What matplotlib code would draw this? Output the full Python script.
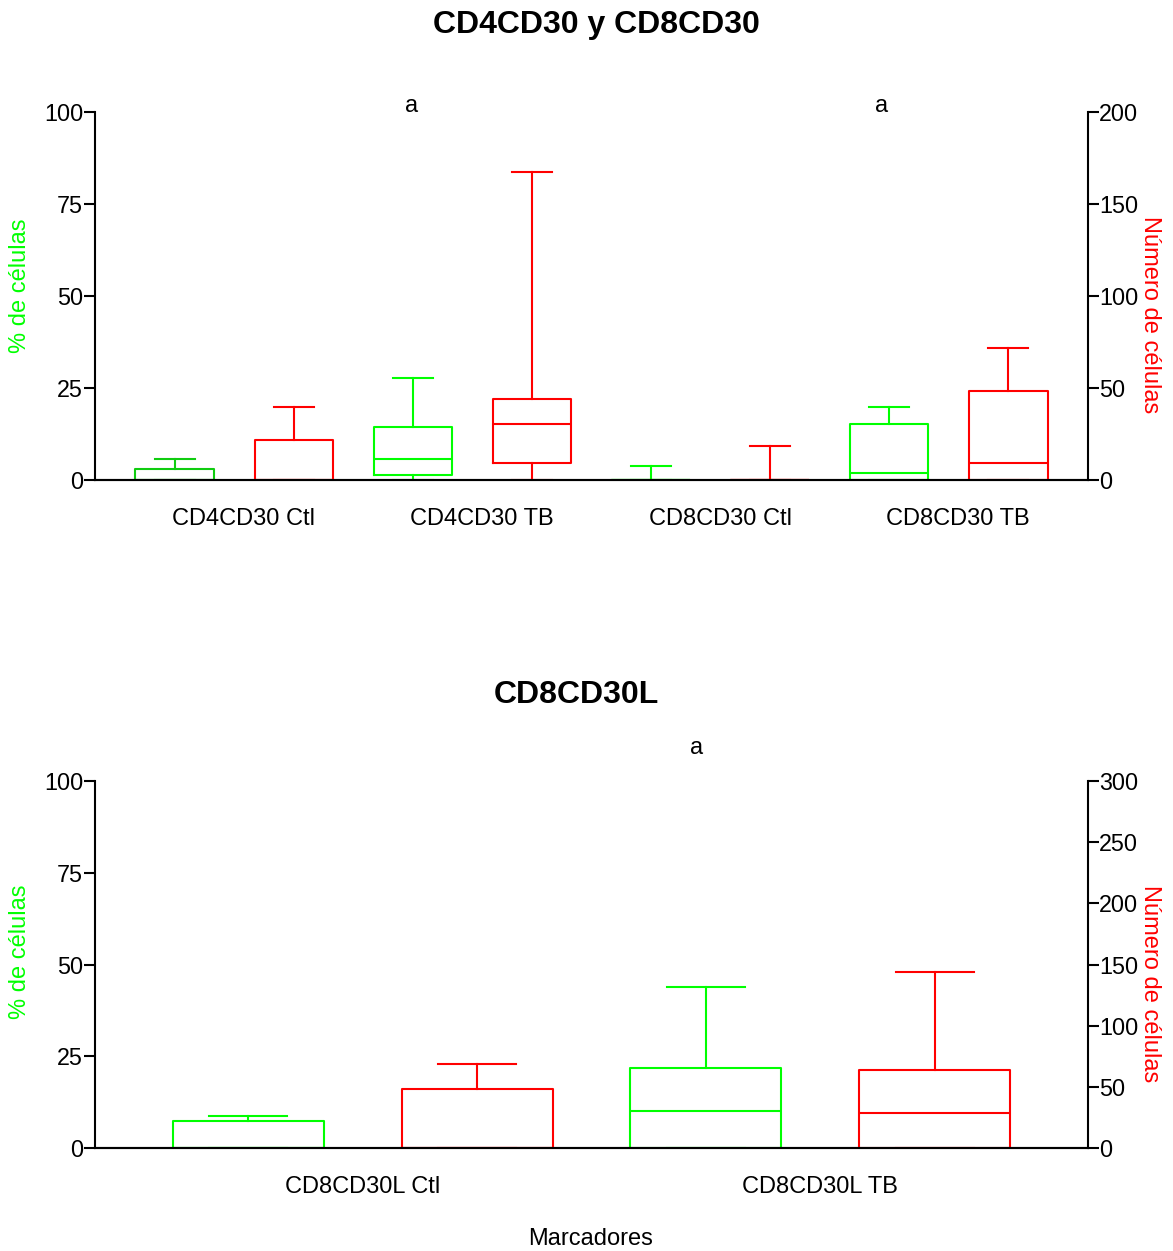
import matplotlib
matplotlib.use("Agg")
import matplotlib.pyplot as plt

plt.rcParams['font.family'] = ['Liberation Sans', 'DejaVu Sans']

GREEN = '#00FF00'
GREEN_DARK = '#10CC10'
RED = '#FF0000'

# ---- Panel 1: CD4CD30 y CD8CD30 ----
top_groups = ['CD4CD30 Ctl', 'CD4CD30 TB', 'CD8CD30 Ctl', 'CD8CD30 TB']
# % de células (left axis): whislo, q1, med, q3, whishi
top_pct_lo = [0, 0, 0, 0]
top_pct_q1 = [0, 1.4, 0, 0]
top_pct_med = [0, 5.8, 0, 1.8]
top_pct_q3 = [2.9, 14.3, 0, 15.3]
top_pct_hi = [5.8, 27.8, 3.9, 19.8]
# Número de células (right axis)
top_num_lo = [0, 0, 0, 0]
top_num_q1 = [0, 9.4, 0, 0]
top_num_med = [0, 30.3, 0, 9.2]
top_num_q3 = [21.7, 44.2, 0, 48.2]
top_num_hi = [39.7, 167.4, 18.6, 71.9]

# ---- Panel 2: CD8CD30L ----
bot_groups = ['CD8CD30L Ctl', 'CD8CD30L TB']
bot_pct_lo = [0, 0]
bot_pct_q1 = [0, 0]
bot_pct_med = [0, 10.2]
bot_pct_q3 = [7.4, 21.8]
bot_pct_hi = [8.7, 43.9]
bot_num_lo = [0, 0]
bot_num_q1 = [0, 0]
bot_num_med = [0, 28.4]
bot_num_q3 = [48.2, 63.5]
bot_num_hi = [68.4, 143.7]

FS_TICK = 16.8
FS_LABEL = 17
FS_TITLE = 23


def stats(lo, q1, med, q3, hi):
    return [dict(whislo=a, q1=b, med=c, q3=d, whishi=e, fliers=[])
            for a, b, c, d, e in zip(lo, q1, med, q3, hi)]


def draw_boxes(ax, st, positions, color, lw=1.5):
    art = ax.bxp(st, positions=positions, widths=0.66, showfliers=False,
                 capwidths=0.34, manage_ticks=False,
                 boxprops=dict(color=color, linewidth=lw),
                 whiskerprops=dict(color=color, linewidth=lw),
                 capprops=dict(color=color, linewidth=lw),
                 medianprops=dict(color=color, linewidth=lw))
    return art


def style_axes(ax, ax2, ymax_left, ymax_right, right_step, groups, centers):
    ax.set_ylim(0, ymax_left)
    ax2.set_ylim(0, ymax_right)
    ax.set_yticks(range(0, ymax_left + 1, 25))
    ax2.set_yticks(range(0, ymax_right + 1, right_step))
    for a in (ax, ax2):
        a.spines['top'].set_visible(False)
        for s in a.spines.values():
            s.set_linewidth(1.5)
            s.set_color('black')
    ax.spines['right'].set_visible(False)
    ax2.spines['left'].set_visible(False)
    ax.tick_params(axis='y', direction='out', length=8, width=1.5,
                   labelsize=FS_TICK, pad=0.5)
    ax2.tick_params(axis='y', direction='out', length=8, width=1.5,
                    labelsize=FS_TICK, pad=0)
    ax.set_xticks(centers)
    ax.set_xticklabels(groups)
    ax.tick_params(axis='x', length=0, labelsize=FS_LABEL, pad=20)


fig = plt.figure(figsize=(11.73, 12.51), dpi=100)

# Top panel
ax1 = fig.add_axes([95 / 1173, 1 - 480 / 1251, 993 / 1173, 368 / 1251])
ax1b = ax1.twinx()
n = len(top_groups)
g_pos = [2 * i for i in range(n)]
r_pos = [2 * i + 1 for i in range(n)]
green_top = stats(top_pct_lo, top_pct_q1, top_pct_med, top_pct_q3, top_pct_hi)
red_top = stats(top_num_lo, top_num_q1, top_num_med, top_num_q3, top_num_hi)
draw_boxes(ax1, green_top[:1], g_pos[:1], GREEN_DARK)
draw_boxes(ax1, green_top[1:], g_pos[1:], GREEN)
draw_boxes(ax1b, red_top, r_pos, RED)
ax1.set_xlim(-0.67, 2 * n - 1 + 0.67)
style_axes(ax1, ax1b, 100, 200, 50, top_groups,
           [2 * i + 0.5 + 0.08 for i in range(n)])
ax1.text(1.985, 101.9, 'a', ha='center', va='center', fontsize=FS_TICK)
ax1.text(5.94, 101.9, 'a', ha='center', va='center', fontsize=FS_TICK)

# Bottom panel
ax2 = fig.add_axes([95 / 1173, 1 - 1148 / 1251, 993 / 1173, 367 / 1251])
ax2b = ax2.twinx()
m = len(bot_groups)
g_pos2 = [2 * i for i in range(m)]
r_pos2 = [2 * i + 1 for i in range(m)]
draw_boxes(ax2, stats(bot_pct_lo, bot_pct_q1, bot_pct_med, bot_pct_q3, bot_pct_hi),
           g_pos2, GREEN)
draw_boxes(ax2b, stats(bot_num_lo, bot_num_q1, bot_num_med, bot_num_q3, bot_num_hi),
           r_pos2, RED)
ax2.set_xlim(-0.67, 2 * m - 1 + 0.67)
style_axes(ax2, ax2b, 100, 300, 50, bot_groups,
           [2 * i + 0.5 for i in range(m)])
ax2.text(1.96, 109, 'a', ha='center', va='center', fontsize=FS_TICK)

# Titles and axis labels
fig.text(596 / 1173, 1 - 25 / 1251, 'CD4CD30 y CD8CD30', ha='center',
         va='center', fontsize=FS_TITLE, fontweight='bold')
fig.text(576 / 1173, 1 - 695 / 1251, 'CD8CD30L', ha='center',
         va='center', fontsize=FS_TITLE, fontweight='bold')
for yc in (286, 952):
    fig.text(20 / 1173, 1 - yc / 1251, '% de células', rotation=90,
             ha='center', va='center', fontsize=FS_LABEL, color=GREEN)
for yc in (315, 984):
    fig.text(1150 / 1173, 1 - yc / 1251, 'Número de células', rotation=-90,
             ha='center', va='center', fontsize=FS_LABEL, color=RED)
fig.text(591 / 1173, 1 - 1239 / 1251, 'Marcadores', ha='center',
         va='center', fontsize=FS_LABEL)

fig.savefig('out.png', dpi=100, facecolor='white')
